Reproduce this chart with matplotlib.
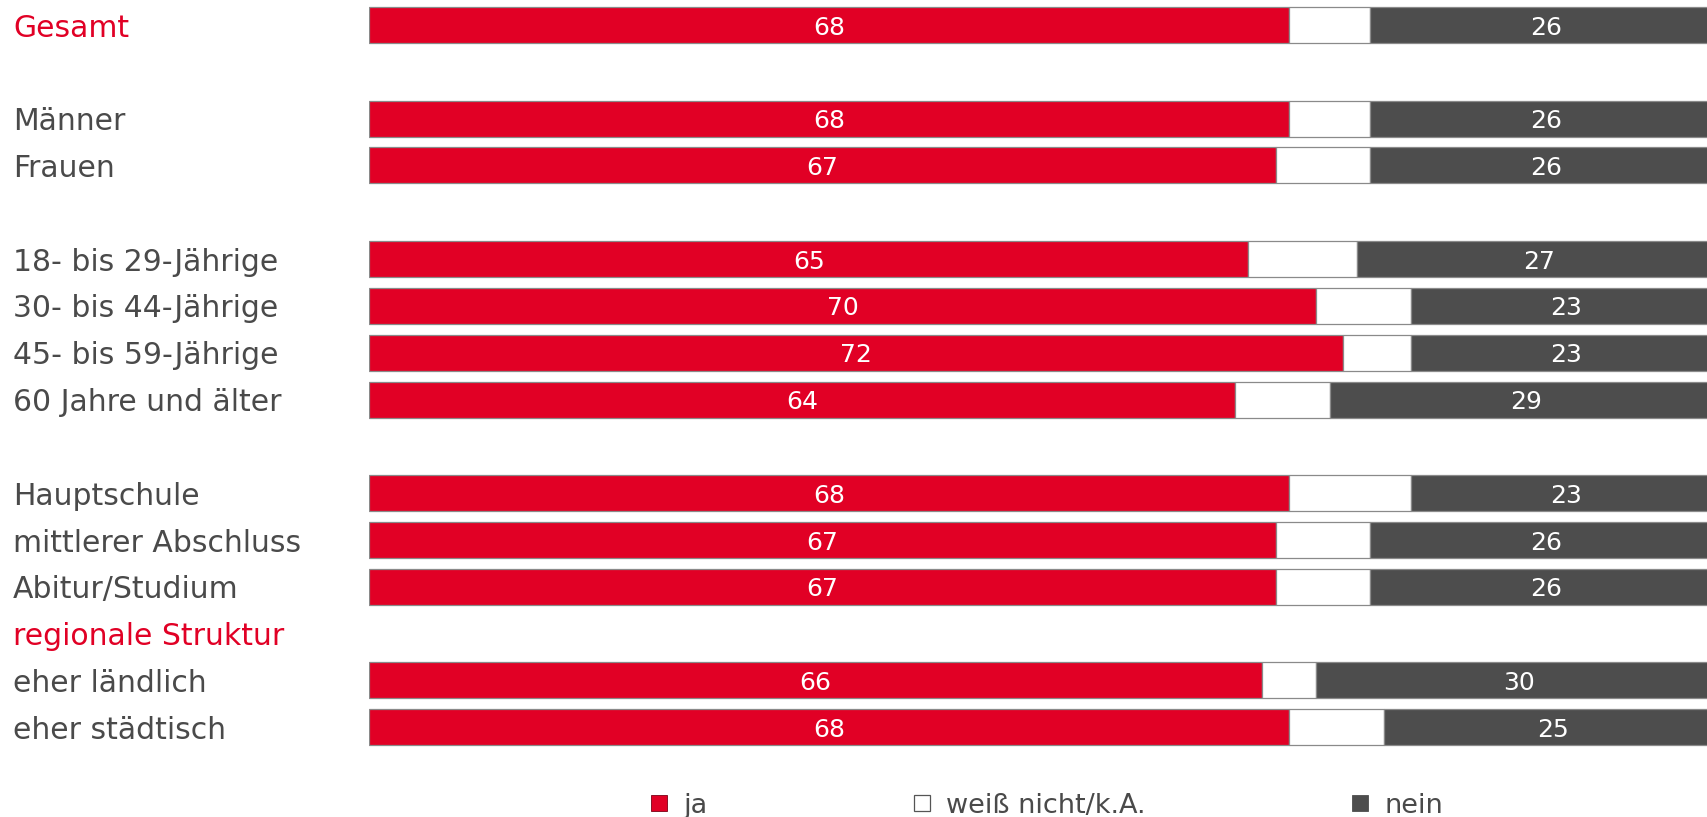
import matplotlib.pyplot as plt
import matplotlib.transforms as mtransforms
from matplotlib.lines import Line2D

# rows (None = empty slot), label colours
labels = ["Gesamt", None, "Männer", "Frauen", None,
          "18- bis 29-Jährige", "30- bis 44-Jährige", "45- bis 59-Jährige", "60 Jahre und älter", None,
          "Hauptschule", "mittlerer Abschluss", "Abitur/Studium", "regionale Struktur",
          "eher ländlich", "eher städtisch"]
red_labels = ["Gesamt", "regionale Struktur"]

ja = [68, None, 68, 67, None, 65, 70, 72, 64, None, 68, 67, 67, None, 66, 68]
weiss = [6, None, 6, 7, None, 8, 7, 5, 7, None, 9, 7, 7, None, 4, 7]
nein = [26, None, 26, 26, None, 27, 23, 23, 29, None, 23, 26, 26, None, 30, 25]

series_names = ["ja", "weiß nicht/k.A.", "nein"]
RED = "#E10025"
GRAY = "#4D4D4D"
TXT = "#4a4a4a"
EDGE = "#8a8a8a"

fig = plt.figure(figsize=(17.07, 8.17), dpi=100)
ax = fig.add_axes([369 / 1707, 1 - 750.7 / 817, 1353 / 1707, (750.7 - 1.6) / 817])
ax.set_xlim(0, 100)
ax.set_ylim(15.5, -0.5)
ax.axis("off")

h = 0.77
for i in range(len(labels)):
    if ja[i] is None:
        continue
    left = 0
    for vals, col in [(ja, RED), (weiss, "white"), (nein, GRAY)]:
        v = vals[i]
        ax.barh(i, v, left=left, height=h, color=col, edgecolor=EDGE, linewidth=0.9)
        if col != "white":
            ax.text(left + v / 2, i, str(v), ha="center", va="center_baseline",
                    color="white", fontsize=18)
        left += v

trans = mtransforms.blended_transform_factory(fig.transFigure, ax.transData)
for i, lab in enumerate(labels):
    if lab is None:
        continue
    col = RED if lab in red_labels else TXT
    ax.text(13 / 1707, i, lab, transform=trans, ha="left", va="center_baseline",
            color=col, fontsize=21.5, clip_on=False)

handles = [
    Line2D([], [], linestyle="none", marker="s", markersize=11, markerfacecolor=RED, markeredgecolor="#7a0015", markeredgewidth=0.6),
    Line2D([], [], linestyle="none", marker="s", markersize=11, markerfacecolor="white", markeredgecolor="#555555", markeredgewidth=0.9),
    Line2D([], [], linestyle="none", marker="s", markersize=11, markerfacecolor=GRAY, markeredgecolor=GRAY, markeredgewidth=0.6),
]
leg = fig.legend(handles, series_names, loc="center", bbox_to_anchor=(0.613, 0.014), ncol=3,
                 frameon=False, fontsize=19.5, handlelength=0.7, handletextpad=0.55,
                 columnspacing=7.55, borderpad=0)
for t in leg.get_texts():
    t.set_color(TXT)

fig.savefig("out.png", dpi=100)
